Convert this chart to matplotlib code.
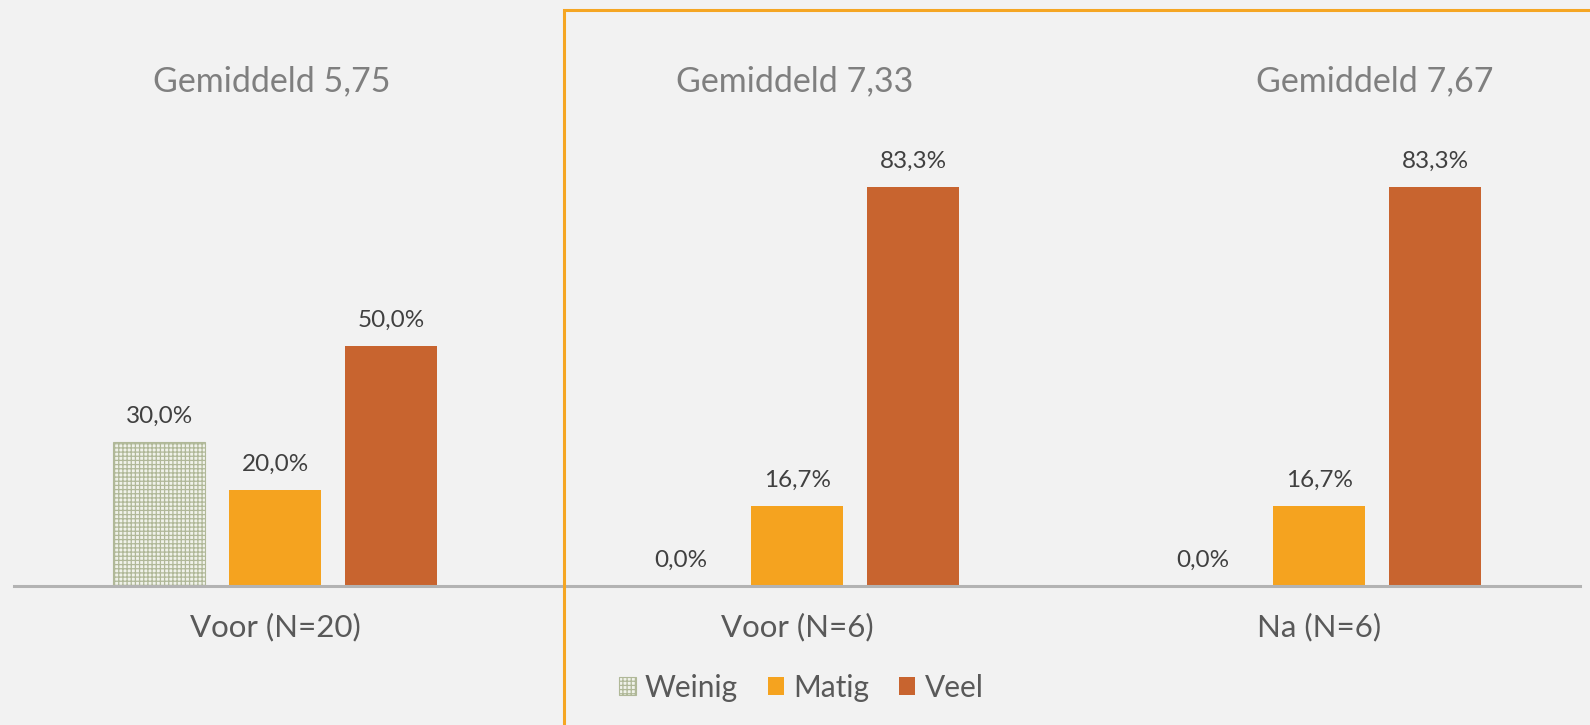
import numpy as np
import matplotlib
matplotlib.use('Agg')
import matplotlib.pyplot as plt
from matplotlib.patches import Rectangle

# chart data
groups = ['Voor (N=20)', 'Voor (N=6)', 'Na (N=6)']
series = ['Weinig', 'Matig', 'Veel']
weinig = [30.0, 0.0, 0.0]
matig = [20.0, 16.7, 16.7]
veel = [50.0, 83.3, 83.3]
averages = ['Gemiddeld 5,75', 'Gemiddeld 7,33', 'Gemiddeld 7,67']

plt.rcParams['font.family'] = ['Lato', 'DejaVu Sans']
plt.rcParams['hatch.linewidth'] = 0.9

bg = '#f2f2f2'
txt = '#595959'
fig = plt.figure(figsize=(15.9, 7.25), dpi=100, facecolor=bg)
ax = fig.add_axes([0.0088, 0.1917, 0.985, 0.661], facecolor=bg)

x = np.arange(len(groups))
w = 0.175
off = 0.222
b1 = ax.bar(x - off, weinig, w, facecolor='#f0f2ea', edgecolor='#b0b898',
            hatch='++++', linewidth=0.8, label='Weinig')
b2 = ax.bar(x, matig, w, color='#f5a31f', label='Matig')
b3 = ax.bar(x + off, veel, w, color='#c8642f', label='Veel')

for bars, vals in [(b1, weinig), (b2, matig), (b3, veel)]:
    for r, v in zip(bars, vals):
        ax.annotate(('%.1f%%' % v).replace('.', ','),
                    (r.get_x() + r.get_width() / 2, v),
                    xytext=(0, 18.5), textcoords='offset points',
                    ha='center', va='center', fontsize=17.5, color='#404040')

ax.set_xlim(-0.5, 2.5)
ax.set_ylim(0, 100)
ax.set_yticks([])
ax.set_xticks(x)
ax.set_xticklabels(groups, fontsize=22.5, color=txt)
ax.tick_params(axis='x', length=0, pad=19)
for s in ['top', 'right', 'left']:
    ax.spines[s].set_visible(False)
ax.spines['bottom'].set_color('#b3b3b3')
ax.spines['bottom'].set_linewidth(2.2)

# averages above each group
for xp, t in zip([272, 795, 1375], averages):
    fig.text(xp / 1590, 1 - 81 / 725, t, ha='center', va='center',
             fontsize=24.5, color='#7f7f7f')

# orange frame around the second part
fig.patches.append(Rectangle((564 / 1590, -0.1), 0.7, 1 - 10 / 725 + 0.1,
                             transform=fig.transFigure, fill=False,
                             edgecolor='#f5a623', linewidth=2.2))

fig.legend(loc='center', bbox_to_anchor=(0.504, 1 - 688 / 725), ncol=3,
           frameon=False, fontsize=21.5, labelcolor=txt, handlelength=0.55,
           handleheight=0.55, handletextpad=0.3, columnspacing=1.0)

fig.savefig('out.png', dpi=100, facecolor=bg)
